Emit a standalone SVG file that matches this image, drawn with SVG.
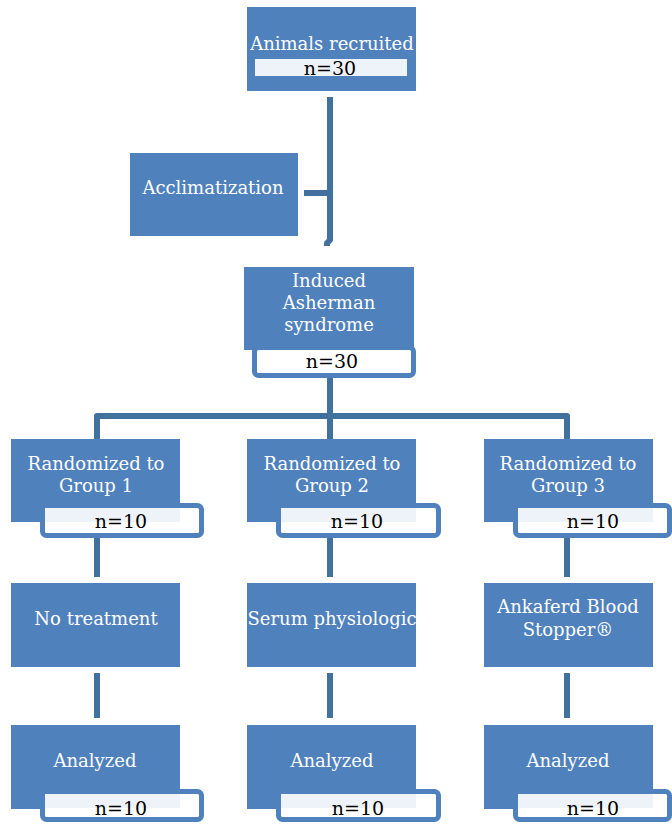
<svg xmlns="http://www.w3.org/2000/svg" width="672" height="824" viewBox="0 0 672 824">
<style>
.box{fill:#4F81BD}
.frame{fill:#FFFFFF;stroke:#4F81BD;stroke-width:5}
.tint{fill:#EEF3FA}
.lbl{font-family:"DejaVu Serif",serif;font-size:18px;fill:#FFFFFF;text-anchor:middle}
.num{font-family:"DejaVu Serif","Liberation Serif",serif;font-size:19px;fill:#000000;text-anchor:middle}
.conn{fill:none;stroke:#41719C;stroke-width:6;stroke-linejoin:round}
</style>
<rect width="672" height="824" fill="#FFFFFF"/>
<g id="connectors">
<path class="conn" d="M330 97 V240 L327 243 V246"/>
<path class="conn" d="M304 193 H330"/>
<path class="conn" d="M330 378 V416"/>
<path class="conn" d="M97 439 V416 H567 V439"/>
<path class="conn" d="M330 416 V439"/>
<path class="conn" d="M97 538 V577"/>
<path class="conn" d="M330 538 V577"/>
<path class="conn" d="M567 538 V577"/>
<path class="conn" d="M97 673 V718"/>
<path class="conn" d="M330 673 V718"/>
<path class="conn" d="M567 673 V718"/>
</g>
<g id="recruited">
<rect class="box" x="247" y="7" width="169" height="84"/>
<rect class="tint" x="255" y="59" width="152" height="17"/>
<text class="lbl" x="332" y="50">Animals recruited</text>
<text class="num" x="330" y="75">n=30</text>
</g>
<g id="acclimatization">
<rect class="box" x="130" y="153" width="168" height="83"/>
<text class="lbl" x="213" y="194">Acclimatization</text>
</g>
<g id="induced">
<rect class="box" x="244" y="267" width="170" height="83"/>
<rect class="frame" x="254.5" y="347.5" width="159" height="28" rx="4"/>
<text class="lbl" x="329" y="287">Induced</text>
<text class="lbl" x="329" y="309">Asherman</text>
<text class="lbl" x="329" y="331">syndrome</text>
<text class="num" x="332" y="368">n=30</text>
</g>
<g id="group1">
<rect class="box" x="11" y="439" width="169" height="83"/>
<rect class="frame" x="42.5" y="505.5" width="159" height="30" rx="4"/>
<rect class="tint" x="45" y="508" width="135" height="14"/>
<text class="lbl" x="96" y="470">Randomized to</text>
<text class="lbl" x="96" y="492">Group 1</text>
<text class="num" x="121" y="528">n=10</text>
</g>
<g id="group2">
<rect class="box" x="247" y="439" width="169" height="83"/>
<rect class="frame" x="278.5" y="505.5" width="160" height="30" rx="4"/>
<rect class="tint" x="281" y="508" width="135" height="14"/>
<text class="lbl" x="332" y="470">Randomized to</text>
<text class="lbl" x="332" y="492">Group 2</text>
<text class="num" x="357" y="528">n=10</text>
</g>
<g id="group3">
<rect class="box" x="484" y="439" width="169" height="83"/>
<rect class="frame" x="515.5" y="505.5" width="154" height="30" rx="4"/>
<rect class="tint" x="518" y="508" width="135" height="14"/>
<text class="lbl" x="568" y="470">Randomized to</text>
<text class="lbl" x="568" y="492">Group 3</text>
<text class="num" x="593" y="528">n=10</text>
</g>
<g id="treatment1">
<rect class="box" x="11" y="583" width="169" height="84"/>
<text class="lbl" x="96" y="625">No treatment</text>
</g>
<g id="treatment2">
<rect class="box" x="247" y="583" width="169" height="84"/>
<text class="lbl" x="332" y="625">Serum physiologic</text>
</g>
<g id="treatment3">
<rect class="box" x="484" y="583" width="169" height="84"/>
<text class="lbl" x="568" y="613">Ankaferd Blood</text>
<text class="lbl" x="568" y="636">Stopper®</text>
</g>
<g id="analyzed1">
<rect class="box" x="11" y="725" width="169" height="84"/>
<rect class="frame" x="42.5" y="791.5" width="159" height="28" rx="4"/>
<rect class="tint" x="45" y="794" width="135" height="14"/>
<text class="lbl" x="95" y="767">Analyzed</text>
<text class="num" x="121" y="815">n=10</text>
</g>
<g id="analyzed2">
<rect class="box" x="247" y="725" width="169" height="84"/>
<rect class="frame" x="278.5" y="791.5" width="160" height="28" rx="4"/>
<rect class="tint" x="281" y="794" width="135" height="14"/>
<text class="lbl" x="332" y="767">Analyzed</text>
<text class="num" x="358" y="815">n=10</text>
</g>
<g id="analyzed3">
<rect class="box" x="484" y="725" width="169" height="84"/>
<rect class="frame" x="515.5" y="791.5" width="154" height="28" rx="4"/>
<rect class="tint" x="518" y="794" width="135" height="14"/>
<text class="lbl" x="568" y="767">Analyzed</text>
<text class="num" x="593" y="815">n=10</text>
</g>
</svg>
